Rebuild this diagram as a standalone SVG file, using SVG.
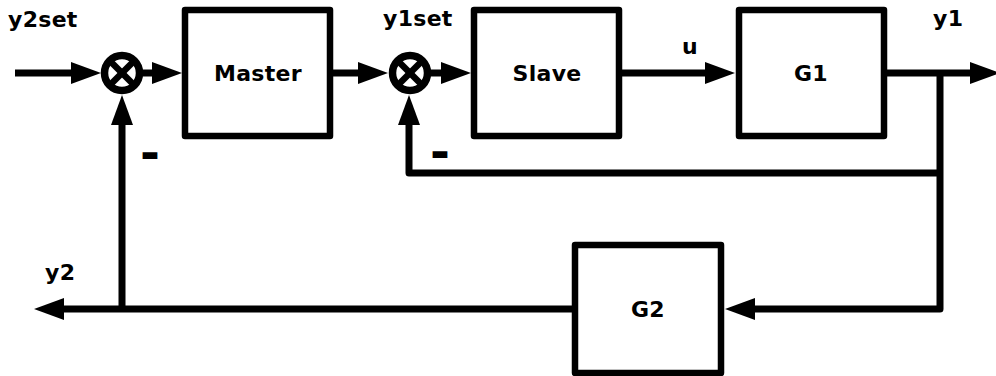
<svg xmlns="http://www.w3.org/2000/svg" width="996" height="376" viewBox="0 0 996 376">
  <style>
    .wire { fill: none; stroke: #000; stroke-width: 7; stroke-linejoin: round; }
    .box { fill: #fff; stroke: #000; stroke-width: 6.5; stroke-linejoin: round; }
    .sum { fill: #fff; stroke: #000; stroke-width: 7.5; }
    .cross { stroke: #000; stroke-width: 6.5; }
    .lbl { font-family: "DejaVu Sans", Verdana, sans-serif; font-weight: bold; font-size: 22px; letter-spacing: 0.3px; fill: #000; }
    .mid { text-anchor: middle; }
    .sign { font-family: "DejaVu Sans", sans-serif; font-weight: bold; font-size: 48px; text-anchor: middle; fill: #000; }
  </style>
  <defs>
    <marker id="arrow" viewBox="0 0 30 22" refX="1" refY="11" markerWidth="30" markerHeight="22" markerUnits="userSpaceOnUse" orient="auto">
      <path d="M0,0 L30,11 L0,22 Z" fill="#000"/>
    </marker>
  </defs>

  <rect width="996" height="376" fill="#fff"/>

  <!-- signal lines -->
  <g id="connectors">
    <path class="wire" d="M15,73 H72" marker-end="url(#arrow)"/>
    <path class="wire" d="M143,73 H153" marker-end="url(#arrow)"/>
    <path class="wire" d="M333,73 H359" marker-end="url(#arrow)"/>
    <path class="wire" d="M431,73 H442" marker-end="url(#arrow)"/>
    <path class="wire" d="M622,73 H706" marker-end="url(#arrow)"/>
    <path class="wire" d="M886,73 H971" marker-end="url(#arrow)"/>
    <path class="wire" d="M940,73 V309 H754" marker-end="url(#arrow)"/>
    <path class="wire" d="M940,173 H409 V124" marker-end="url(#arrow)"/>
    <path class="wire" d="M572,309 H63" marker-end="url(#arrow)"/>
    <path class="wire" d="M122,309 V124" marker-end="url(#arrow)"/>
  </g>

  <!-- outer summing junction -->
  <g id="sum1">
    <circle class="sum" cx="122" cy="73" r="17.5"/>
    <line class="cross" x1="110" y1="61" x2="134" y2="85"/>
    <line class="cross" x1="134" y1="61" x2="110" y2="85"/>
  </g>

  <!-- inner summing junction -->
  <g id="sum2">
    <circle class="sum" cx="410" cy="73" r="17.5"/>
    <line class="cross" x1="398" y1="61" x2="422" y2="85"/>
    <line class="cross" x1="422" y1="61" x2="398" y2="85"/>
  </g>

  <g id="master">
    <rect class="box" x="185" y="10" width="145" height="126"/>
    <text class="lbl mid" x="258" y="81">Master</text>
  </g>

  <g id="slave">
    <rect class="box" x="474" y="10" width="145" height="126"/>
    <text class="lbl mid" x="547" y="81">Slave</text>
  </g>

  <g id="g1">
    <rect class="box" x="739" y="10" width="145" height="126"/>
    <text class="lbl mid" x="811" y="81">G1</text>
  </g>

  <g id="g2">
    <rect class="box" x="575" y="245" width="146" height="128"/>
    <text class="lbl mid" x="648" y="317">G2</text>
  </g>

  <!-- signal names -->
  <g id="labels">
    <text class="lbl" x="8" y="27">y2set</text>
    <text class="lbl" x="383" y="26">y1set</text>
    <text class="lbl" x="682" y="54">u</text>
    <text class="lbl" x="933" y="26">y1</text>
    <text class="lbl" x="45" y="280">y2</text>
    <text class="sign" x="150" y="169">-</text>
    <text class="sign" x="440" y="168">-</text>
  </g>
</svg>
